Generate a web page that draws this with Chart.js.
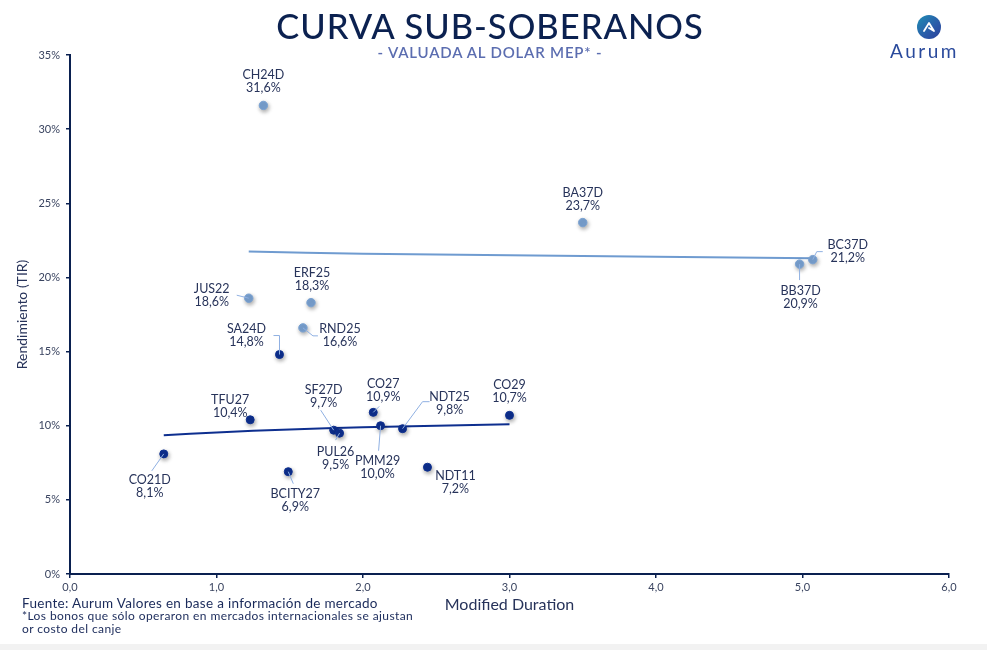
<!DOCTYPE html>
<html>
<head>
<meta charset="utf-8">
<script src="https://cdn.jsdelivr.net/npm/chart.js@4.4.1/dist/chart.umd.min.js"></script>
<style>
  html,body{margin:0;padding:0;background:#f2f2f2;}
  #wrap{position:relative;width:987px;height:644px;background:#fff;overflow:hidden;font-family:Lato,"Noto Sans",sans-serif;}
  canvas{position:absolute;left:0;top:0;}
  .t{position:absolute;white-space:nowrap;}
  #title{left:0;width:980px;top:5px;text-align:center;font-size:34.5px;color:#0b2150;letter-spacing:1px;font-weight:500;}
  #sub{left:0;width:980px;top:43px;text-align:center;font-size:15px;color:#5b6db0;letter-spacing:0.8px;font-weight:600;}
  #logoc{position:absolute;left:917px;top:15px;width:24px;height:24px;border-radius:50%;background:linear-gradient(135deg,#1f8fb5 0%,#2a5aa8 60%,#2b3f9a 100%);}
  #logot{left:890px;top:39px;font-size:19px;color:#2a4a9c;letter-spacing:2.5px;}
  #f1{left:22px;top:595px;font-size:13.5px;color:#1a2a5a;letter-spacing:0.3px;}
  #f2{left:22px;top:608px;font-size:12px;color:#1a2a5a;letter-spacing:0.4px;}
  #f3{left:22px;top:621px;font-size:12px;color:#1a2a5a;letter-spacing:0.4px;}
</style>
</head>
<body>
<div id="wrap">
  <canvas id="c" width="987" height="644"></canvas>
  <div class="t" id="title">CURVA SUB-SOBERANOS</div>
  <div class="t" id="sub">- VALUADA AL DOLAR MEP* -</div>
  <div id="logoc"><svg width="24" height="24" viewBox="0 0 24 24"><path d="M7 16 L12 8 L17 16 L12 13" fill="none" stroke="#fff" stroke-width="1.8" stroke-linejoin="round" stroke-linecap="round"/></svg></div>
  <div class="t" id="logot">Aurum</div>
  <div class="t" id="f1">Fuente: Aurum Valores en base a información de mercado</div>
  <div class="t" id="f2">*Los bonos que sólo operaron en mercados internacionales se ajustan</div>
  <div class="t" id="f3">or costo del canje</div>
</div>
<script>
// ---- Data ----
const darkNames = ["CO21D","TFU27","SA24D","BCITY27","SF27D","PUL26","CO27","PMM29","NDT25","NDT11","CO29"];
const darkDuration = [0.64, 1.23, 1.43, 1.49, 1.80, 1.84, 2.07, 2.12, 2.27, 2.44, 3.00];
const darkYield = [8.1, 10.4, 14.8, 6.9, 9.7, 9.5, 10.9, 10.0, 9.8, 7.2, 10.7];

const lightNames = ["CH24D","JUS22","RND25","ERF25","BA37D","BB37D","BC37D"];
const lightDuration = [1.32, 1.22, 1.59, 1.645, 3.50, 4.98, 5.07];
const lightYield = [31.6, 18.6, 16.6, 18.3, 23.7, 20.9, 21.2];

const darkTrendX = [0.64, 1.0, 1.5, 2.0, 2.5, 3.0];
const darkTrendY = [9.35, 9.55, 9.75, 9.9, 10.0, 10.1];
const lightTrendX = [1.22, 2.0, 3.0, 4.0, 5.07];
const lightTrendY = [21.75, 21.6, 21.5, 21.4, 21.3];

const xTicks = [0,1,2,3,4,5,6];
const yTicks = [0,5,10,15,20,25,30,35];

// ---- Label layout (pixel offsets from each point) ----
const labelLayout = {
  CH24D:{dx:0,dy:-30}, BA37D:{dx:0,dy:-30},
  BC37D:{dx:35,dy:-15,lead:[[0,0],[4,-8],[10,-8]]},
  BB37D:{dx:1,dy:27,lead:[[0,0],[0,16]]},
  JUS22:{dx:-37,dy:-9,lead:[[-12,-3],[0,0]]},
  ERF25:{dx:1,dy:-30},
  RND25:{dx:37,dy:1,lead:[[0,0],[10,8],[15,8]]},
  SA24D:{dx:-33,dy:-26,lead:[[-6,-19],[0,-19],[0,0]]},
  TFU27:{dx:-20,dy:-20},
  SF27D:{dx:-10,dy:-40,lead:[[-13,-20],[0,0]]},
  PUL26:{dx:-4,dy:19,lead:[[0,0],[-4,7]]},
  CO27:{dx:10,dy:-28,lead:[[0,0],[6,-6]]},
  PMM29:{dx:-3,dy:35,lead:[[0,0],[-2,25]]},
  NDT25:{dx:47,dy:-32,lead:[[0,0],[20,-27],[27,-27]]},
  CO29:{dx:0,dy:-30},
  NDT11:{dx:28,dy:9},
  BCITY27:{dx:7,dy:22,lead:[[0,0],[5,12]]},
  CO21D:{dx:-14,dy:26,lead:[[0,0],[-12,17]]}
};

const NAVY = '#0a2050';
const DARK = '#0d2f8f';
const LIGHT = '#7aa2d2';
const TXT = '#27335a';
const FONT = 'Lato, "Noto Sans", sans-serif';

function pts(xs, ys){ return xs.map((x,i)=>({x:x, y:ys[i]})); }
function fmt(v){ return v.toFixed(1).replace('.', ','); }

const shadowPlugin = {
  id:'shadow',
  beforeDatasetDraw(chart, args){
    const ds = chart.data.datasets[args.index];
    if (ds.isPoints){
      const ctx = chart.ctx; ctx.save();
      ctx.shadowColor='rgba(0,0,0,0.35)'; ctx.shadowBlur=4; ctx.shadowOffsetX=1; ctx.shadowOffsetY=2;
    }
  },
  afterDatasetDraw(chart, args){
    const ds = chart.data.datasets[args.index];
    if (ds.isPoints) chart.ctx.restore();
  }
};

const labelPlugin = {
  id:'labels',
  afterDatasetsDraw(chart){
    const ctx = chart.ctx;
    chart.data.datasets.forEach((ds, di)=>{
      if (!ds.isPoints) return;
      const meta = chart.getDatasetMeta(di);
      meta.data.forEach((el, i)=>{
        const name = ds.names[i];
        const L = labelLayout[name] || {dx:0,dy:-30};
        const px = el.x, py = el.y;
        if (L.lead){
          ctx.save();
          ctx.strokeStyle = '#8fb0e2'; ctx.lineWidth = 1;
          ctx.beginPath();
          L.lead.forEach((p,k)=>{ if(k===0) ctx.moveTo(px+p[0],py+p[1]); else ctx.lineTo(px+p[0],py+p[1]); });
          ctx.stroke();
          ctx.restore();
        }
        ctx.save();
        ctx.fillStyle = TXT;
        ctx.font = '12.5px ' + FONT;
        ctx.textAlign = 'center'; ctx.textBaseline = 'middle';
        ctx.fillText(name, px+L.dx, py+L.dy);
        ctx.fillText(fmt(ds.data[i].y)+'%', px+L.dx, py+L.dy+13);
        ctx.restore();
      });
    });
  }
};

new Chart(document.getElementById('c'), {
  type:'scatter',
  data:{
    datasets:[
      {data:pts(darkDuration, darkYield), names:darkNames, isPoints:true, backgroundColor:DARK, borderColor:DARK, pointRadius:4, order:1},
      {data:pts(lightDuration, lightYield), names:lightNames, isPoints:true, backgroundColor:LIGHT, borderColor:LIGHT, pointRadius:4.2, order:1},
      {data:pts(darkTrendX, darkTrendY), showLine:true, pointRadius:0, borderColor:'#0e2f8f', borderWidth:2, tension:0.3, order:2},
      {data:pts(lightTrendX, lightTrendY), showLine:true, pointRadius:0, borderColor:'#6f9bd0', borderWidth:2, tension:0.3, order:2}
    ]
  },
  options:{
    responsive:false, animation:false,
    layout:{padding:{left:0,right:38,top:55,bottom:0}},
    plugins:{legend:{display:false}, tooltip:{enabled:false}},
    scales:{
      x:{
        type:'linear', min:0, max:6,
        afterBuildTicks(s){ s.ticks = xTicks.map(v=>({value:v})); },
        afterFit(s){ s.height = 70; },
        ticks:{callback:v=>fmt(v), font:{family:FONT,size:11}, color:'#3a4460', padding:3},
        grid:{drawOnChartArea:false, drawTicks:true, tickLength:4, color:NAVY, lineWidth:1.5},
        border:{color:NAVY, width:2},
        title:{display:true, text:'Modified Duration', font:{family:FONT,size:16}, color:TXT, padding:{top:0,bottom:30}}
      },
      y:{
        type:'linear', min:0, max:35,
        afterBuildTicks(s){ s.ticks = yTicks.map(v=>({value:v})); },
        afterFit(s){ s.width = 70; },
        ticks:{callback:v=>v+'%', font:{family:FONT,size:11}, color:'#3a4460', padding:6},
        grid:{drawOnChartArea:false, drawTicks:true, tickLength:4, color:NAVY, lineWidth:1.5},
        border:{color:NAVY, width:2},
        title:{display:true, text:'Rendimiento (TIR)', font:{family:FONT,size:14}, color:TXT, padding:{top:14,bottom:0}}
      }
    }
  },
  plugins:[shadowPlugin, labelPlugin]
});
</script>
</body>
</html>
